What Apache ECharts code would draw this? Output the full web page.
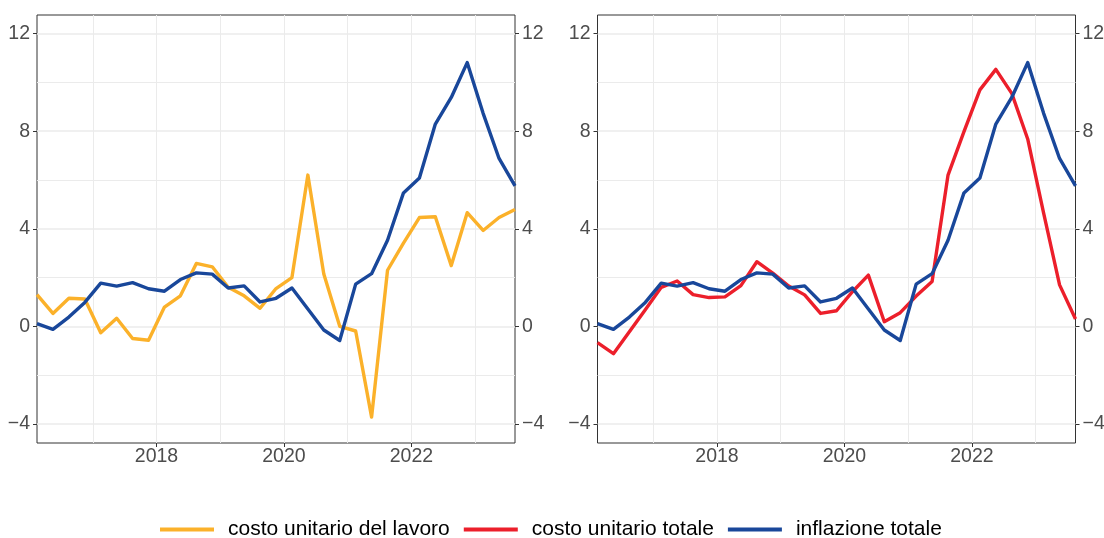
<!DOCTYPE html>
<html>
<head>
<meta charset="utf-8">
<script src="https://cdn.jsdelivr.net/npm/echarts@6/dist/echarts.min.js"></script>
<style>
  html, body { margin: 0; padding: 0; background: #fff; }
  #chart { width: 1104px; height: 538px; }
</style>
</head>
<body>
<div id="chart"></div>
<script>
// quarterly observations, 2016Q1 - 2023Q3
const quarters = [
  '2016Q1', '2016Q2', '2016Q3', '2016Q4', '2017Q1', '2017Q2', '2017Q3', '2017Q4',
  '2018Q1', '2018Q2', '2018Q3', '2018Q4', '2019Q1', '2019Q2', '2019Q3', '2019Q4',
  '2020Q1', '2020Q2', '2020Q3', '2020Q4', '2021Q1', '2021Q2', '2021Q3', '2021Q4',
  '2022Q1', '2022Q2', '2022Q3', '2022Q4', '2023Q1', '2023Q2', '2023Q3'
]
const costoLavoro = [
  1.3, 0.53, 1.15, 1.12, -0.26, 0.33, -0.5, -0.57,
  0.79, 1.25, 2.58, 2.44, 1.6, 1.25, 0.74, 1.55,
  2.0, 6.2, 2.15, 0.0, -0.19, -3.72, 2.3, 3.41,
  4.46, 4.49, 2.49, 4.66, 3.93, 4.46, 4.79
]
const costoTotale = [
  -0.67, -1.12, -0.22, 0.68, 1.6, 1.86, 1.3, 1.18,
  1.21, 1.67, 2.65, 2.18, 1.65, 1.29, 0.53, 0.64,
  1.42, 2.1, 0.19, 0.56, 1.24, 1.84, 6.2, 7.98,
  9.69, 10.53, 9.55, 7.68, 4.64, 1.7, 0.3
]
const inflazione = [
  0.11, -0.12, 0.38, 0.98, 1.77, 1.65, 1.79, 1.54,
  1.44, 1.92, 2.19, 2.14, 1.57, 1.66, 1.0, 1.15,
  1.57, 0.71, -0.15, -0.58, 1.73, 2.16, 3.53, 5.47,
  6.08, 8.29, 9.38, 10.81, 8.73, 6.88, 5.76
]
const yMajorTicks = [-4, 0, 4, 8, 12]
const yMinorTicks = [-2, 2, 6, 10]
const xLabelYears = [2018, 2020, 2022]
const xMinorYears = [2017, 2019, 2021, 2023]
const seriesNames = ['costo unitario del lavoro', 'costo unitario totale', 'inflazione totale']

const colors = { lavoro: '#FBB12A', totale: '#EC1F2B', inflazione: '#19479A' }
const axisText = { color: '#4d4d4d', fontSize: 19.5, fontFamily: 'Liberation Sans, Arial, sans-serif' }
const gridColor = '#ebebeb'

// mid-quarter position in decimal years
const toYear = q => Number(q.slice(0, 4)) + (Number(q.slice(5)) - 1) * 0.25 + 0.125
const xs = quarters.map(toYear)
const xMin = xs[0]
const xMax = xs[xs.length - 1]
const yMin = -4.78
const yMax = 12.76

const pairs = values => values.map((v, i) => [xs[i], v])
const fmtNum = v => (v < 0 ? '\u2212' + Math.abs(v) : String(v))

const grids = [
  { left: 37, top: 15, width: 478, height: 428 },
  { left: 597.5, top: 15, width: 478, height: 428 }
].map(g => Object.assign(g, {
  show: true,
  borderColor: '#333333',
  borderWidth: 1,
  backgroundColor: 'transparent',
  containLabel: false,
  outerBoundsMode: 'none'
}))

const xAxis = []
const yAxis = []
grids.forEach((g, gi) => {
  xAxis.push({
    type: 'value', gridIndex: gi, min: xMin, max: xMax, position: 'bottom',
    axisLine: { show: false, onZero: false },
    axisTick: { show: true, length: 4, customValues: xLabelYears, lineStyle: { color: '#333' } },
    axisLabel: Object.assign({ customValues: xLabelYears, margin: 4, formatter: v => String(v) }, axisText),
    splitLine: { show: true, lineStyle: { color: gridColor, width: 1 } }
  })
  xAxis.push({
    type: 'value', gridIndex: gi, min: xMin, max: xMax, position: 'top',
    axisLine: { show: false, onZero: false },
    axisTick: { show: false, customValues: xMinorYears },
    axisLabel: { show: false },
    splitLine: { show: true, lineStyle: { color: gridColor, width: 1 } }
  })
  ;['left', 'right'].forEach((pos, pi) => {
    yAxis.push({
      type: 'value', gridIndex: gi, min: yMin, max: yMax, position: pos,
      axisLine: { show: false, onZero: false },
      axisTick: { show: true, length: 4, customValues: yMajorTicks, lineStyle: { color: '#333' } },
      axisLabel: Object.assign({ customValues: yMajorTicks, margin: 7, formatter: fmtNum }, axisText),
      splitLine: { show: pi === 0, lineStyle: { color: gridColor, width: 1.5 } }
    })
  })
  yAxis.push({
    type: 'value', gridIndex: gi, min: yMin, max: yMax, position: 'left',
    axisLine: { show: false, onZero: false },
    axisTick: { show: false, customValues: yMinorTicks },
    axisLabel: { show: false },
    splitLine: { show: true, lineStyle: { color: gridColor, width: 1 } }
  })
})

const line = (name, values, color, xi, yi) => ({
  name,
  type: 'line',
  xAxisIndex: xi,
  yAxisIndex: yi,
  symbol: 'none',
  smooth: false,
  lineStyle: { color, width: 3.4, join: 'round' },
  itemStyle: { color },
  data: pairs(values)
})

const chart = echarts.init(document.getElementById('chart'))
chart.setOption({
  animation: false,
  backgroundColor: '#ffffff',
  grid: grids,
  xAxis,
  yAxis,
  legend: {
    left: 155,
    top: 514,
    icon: 'rect',
    itemWidth: 54,
    itemHeight: 4,
    itemGap: 14,
    textStyle: { color: '#000', fontSize: 21, fontFamily: 'Liberation Sans, Arial, sans-serif', padding: [0, 0, 0, 9] },
    data: seriesNames
  },
  series: [
    line(seriesNames[0], costoLavoro, colors.lavoro, 0, 0),
    line(seriesNames[2], inflazione, colors.inflazione, 0, 0),
    line(seriesNames[1], costoTotale, colors.totale, 2, 3),
    line(seriesNames[2], inflazione, colors.inflazione, 2, 3)
  ]
})
</script>
</body>
</html>
